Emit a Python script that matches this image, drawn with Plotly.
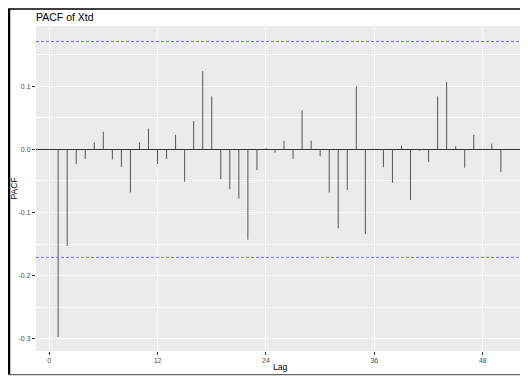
import plotly.graph_objects as go

# ---- data ----
lags = list(range(1, 51))
pacf_values = [
    -0.297, -0.153, -0.023, -0.015, 0.011, 0.028, -0.016, -0.028, -0.068, 0.011,
    0.033, -0.023, -0.015, 0.023, -0.051, 0.045, 0.124, 0.084, -0.047, -0.063,
    -0.078, -0.143, -0.033, 0.002, -0.005, 0.014, -0.015, 0.062, 0.014, -0.011,
    -0.068, -0.125, -0.064, 0.100, -0.134, 0.001, -0.028, -0.053, 0.006, -0.080,
    -0.002, -0.020, 0.084, 0.107, 0.005, -0.029, 0.023, 0.001, 0.009, -0.036,
]
ci_limit = 0.171
x_tick_vals = [0, 12, 24, 36, 48]
x_tick_text = ["0", "12", "24", "36", "48"]
y_tick_vals = [-0.3, -0.2, -0.1, 0.0, 0.1]
y_tick_text = ["-0.3", "-0.2", "-0.1", "0.0", "0.1"]
title_text = "PACF of Xtd"
x_title = "Lag"
y_title = "PACF"

# ---- layout geometry (page body has an 8px margin, so work in page pixels) ----
OFF = 8
W, H = 528 - OFF, 376 - OFF
PL, PR, PT, PB = 36, 522.7, 26, 350.7        # panel edges in page pixels
ML, MT = PL - OFF, PT - OFF
MR, MB = W - (PR - OFF), H - (PB - OFF)
PW, PH = W - ML - MR, H - MT - MB


def px2x(px):
    return (px - OFF - ML) / PW


def py2y(py):
    return 1 - (py - OFF - MT) / PH


# stems built from the data
sx, sy = [], []
for k, v in zip(lags, pacf_values):
    sx += [k, k, None]
    sy += [0, v, None]

fig = go.Figure()
fig.add_trace(go.Scatter(x=sx, y=sy, mode="lines",
                         line=dict(color="#555555", width=1),
                         hoverinfo="skip", showlegend=False))

for c in (ci_limit, -ci_limit):
    fig.add_trace(go.Scatter(x=[-1.45, 52.45], y=[c, c], mode="lines",
                             line=dict(color="rgb(110,110,255)", width=1, dash="3px,2px"),
                             hoverinfo="skip", showlegend=False))

font_fam = "Liberation Sans, Arial, sans-serif"

fig.update_layout(
    width=W, height=H, autosize=False,
    margin=dict(l=ML, r=MR, t=MT, b=MB, pad=0),
    paper_bgcolor="white", plot_bgcolor="#EBEBEB",
    font=dict(family=font_fam, color="#4D4D4D", size=7),
    title=dict(text=title_text, x=0, xref="paper", xanchor="left",
               y=1 - (17 - OFF) / H, yref="container", yanchor="middle",
               font=dict(family=font_fam, size=10.5, color="black")),
    showlegend=False,
    xaxis=dict(range=[-1.45, 52.45], tickvals=x_tick_vals, ticktext=x_tick_text,
               showgrid=True, gridcolor="white", gridwidth=1,
               zeroline=False, showline=False,
               ticks="outside", ticklen=3, tickcolor="#333333", tickwidth=1,
               tickfont=dict(size=7, color="#4D4D4D")),
    yaxis=dict(range=[-0.3193, 0.1955], tickvals=y_tick_vals, ticktext=y_tick_text,
               showgrid=True, gridcolor="white", gridwidth=1,
               minor=dict(tickvals=[-0.25, -0.15, -0.05, 0.05, 0.15],
                          showgrid=True, gridcolor="white", gridwidth=0.5, ticks=""),
               zeroline=True, zerolinecolor="#333333", zerolinewidth=1,
               showline=False,
               ticks="outside", ticklen=3, tickcolor="#333333", tickwidth=1,
               tickfont=dict(size=7, color="#4D4D4D")),
)

# axis titles
fig.add_annotation(text=x_title, xref="paper", yref="paper",
                   x=px2x(279.4), y=py2y(367), xanchor="center", yanchor="middle",
                   showarrow=False, font=dict(family=font_fam, size=8.5, color="black"))
fig.add_annotation(text=y_title, xref="paper", yref="paper", textangle=-90,
                   x=px2x(14), y=py2y(188.3), xanchor="center", yanchor="middle",
                   showarrow=False, font=dict(family=font_fam, size=8.5, color="black"))

# outer frame around the image
frame = [
    (px2x(9), py2y(9), px2x(9), py2y(374.5), "black", 2.5),
    (px2x(8), py2y(9), px2x(527), py2y(9), "black", 1.5),
    (px2x(526.3), py2y(9), px2x(526.3), py2y(374.5), "#222222", 1.5),
    (px2x(8), py2y(374.3), px2x(527), py2y(374.3), "#666666", 1.2),
]
for x0, y0, x1, y1, col, w in frame:
    fig.add_shape(type="line", xref="paper", yref="paper",
                  x0=x0, y0=y0, x1=x1, y1=y1,
                  line=dict(color=col, width=w), layer="above")

fig.write_html("out.html")
